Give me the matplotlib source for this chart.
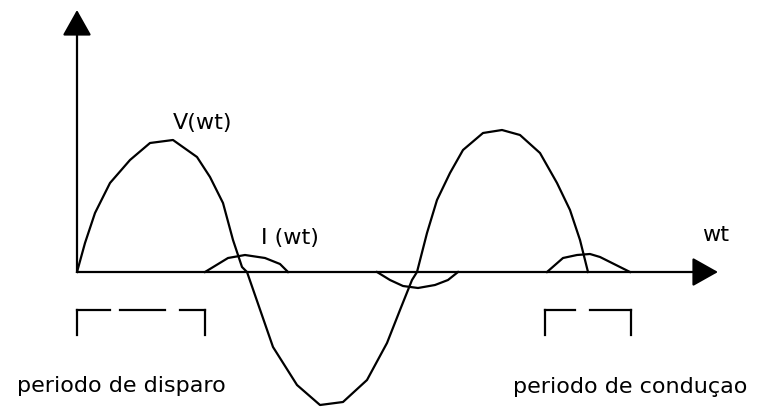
import matplotlib
matplotlib.use("Agg")
import matplotlib.pyplot as plt

# curva de tensao V(wt) (unidades do diagrama)
v_x = [0, 8, 18, 33, 53, 73, 96, 120, 133, 146, 156, 165, 170, 196, 220, 243, 266, 290,
       310, 323, 335, 340, 350, 360, 373, 386, 406, 425, 443, 463, 480, 493, 503, 511]
v_y = [0, 29, 59, 89, 112, 129, 132, 115, 95, 69, 32, 5, 0, -75, -113, -133, -130, -108,
       -71, -38, -8, 0, 39, 72, 99, 122, 139, 142, 137, 119, 89, 62, 32, 0]

# corrente I(wt): tres pulsos
i1_x = [128, 151, 168, 188, 203, 211]
i1_y = [0, 14, 17, 14, 8, 0]
i2_x = [300, 313, 326, 341, 358, 371, 381]
i2_y = [0, -8, -14, -16, -13, -8, 0]
i3_x = [470, 486, 500, 513, 523, 535, 553]
i3_y = [0, 14, 17, 18, 15, 9, 0]

# colchetes (periodo de disparo / conducao)
disparo_dashes = [(0, 33), (43, 88), (103, 128)]
conducao_dashes = [(468, 498), (513, 554)]
bracket_top, bracket_bot = -38, -63

fig = plt.figure(figsize=(7.57, 4.08), dpi=100)
ax = fig.add_axes([0, 0, 1, 1])
ax.set_xlim(-77, 680)
ax.set_ylim(-136, 272)
ax.axis('off')

lw = 1.6
ap = dict(arrowstyle='-|>,head_length=0.8,head_width=0.45', mutation_scale=20,
          lw=lw, color='black', shrinkA=0, shrinkB=0)
ax.annotate('', xy=(0, 262), xytext=(0, 0), arrowprops=ap)
ax.annotate('', xy=(641, 0), xytext=(0, 0), arrowprops=ap)

ax.plot(v_x, v_y, color='black', lw=lw)
for xs, ys in [(i1_x, i1_y), (i2_x, i2_y), (i3_x, i3_y)]:
    ax.plot(xs, ys, color='black', lw=lw)

for dashes in [disparo_dashes, conducao_dashes]:
    left, right = dashes[0][0], dashes[-1][1]
    ax.plot([left, left], [bracket_bot, bracket_top], color='black', lw=lw)
    ax.plot([right, right], [bracket_bot, bracket_top], color='black', lw=lw)
    for a, b in dashes:
        ax.plot([a, b], [bracket_top, bracket_top], color='black', lw=lw)

fs = 16
ax.text(126, 149, 'V(wt)', fontsize=fs, ha='center', va='center')
ax.text(213, 34, 'I (wt)', fontsize=fs, ha='center', va='center')
ax.text(639, 37, 'wt', fontsize=fs, ha='center', va='center')
ax.text(44, -114, 'periodo de disparo', fontsize=fs, ha='center', va='center')
ax.text(553, -115, 'periodo de conduçao', fontsize=fs, ha='center', va='center')

fig.savefig('out.png', dpi=100)
